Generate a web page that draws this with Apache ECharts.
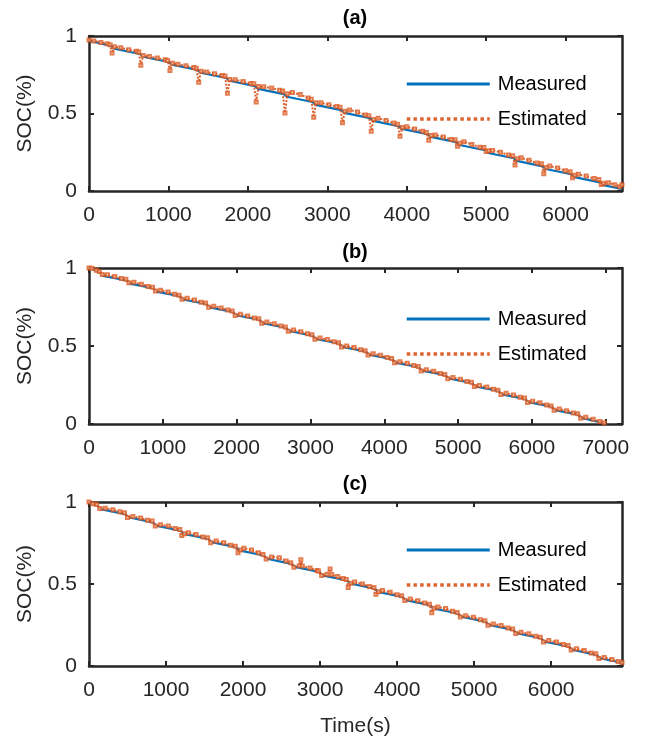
<!DOCTYPE html>
<html>
<head>
<meta charset="utf-8">
<script src="https://cdn.jsdelivr.net/npm/echarts@6/dist/echarts.min.js"></script>
<style>
  html, body { margin: 0; padding: 0; background: #ffffff; }
  #chart { width: 645px; height: 741px; }
</style>
</head>
<body>
<div id="chart"></div>
<script>
// ---------- data ----------
const panelTitles = ['(a)', '(b)', '(c)'];
const seriesNames = ['Measured', 'Estimated'];
const xMaxes = [6710, 7220, 6920];
const xTicksA = [0, 1000, 2000, 3000, 4000, 5000, 6000];
const xTicksB = [0, 1000, 2000, 3000, 4000, 5000, 6000, 7000];
const xTicksC = [0, 1000, 2000, 3000, 4000, 5000, 6000];
const yTicks = [0, 0.5, 1];

// (a)
const tA_meas = [0,280,320,642,682,1004,1044,1366,1406,1728,1768,2090,2130,2452,2492,2814,2854,3176,3216,3538,3578,3900,3940,4262,4302,4624,4664,4986,5026,5348,5388,5710,5750,6072,6112,6434,6474,6710];
const socA_meas = [0.970,0.936,0.918,0.884,0.866,0.832,0.815,0.781,0.763,0.729,0.711,0.677,0.659,0.625,0.608,0.574,0.556,0.522,0.504,0.470,0.452,0.418,0.401,0.367,0.349,0.315,0.297,0.263,0.245,0.211,0.194,0.159,0.142,0.108,0.090,0.056,0.038,0.013];
const tA_est = [0,60,150,230, 265,290,320,400,500,600, 627,652,682,760,860,960, 989,1019,1049,1120,1220,1320, 1351,1381,1411,1480,1580,1680, 1713,1743,1773,1840,1940,2040, 2075,2105,2135,2200,2300,2400, 2437,2467,2497,2560,2660,2760, 2799,2829,2859,2920,3020,3120, 3161,3191,3221,3280,3380,3480, 3523,3553,3583,3640,3740,3840, 3885,3915,3945,4000,4100,4200, 4247,4277,4307,4360,4460,4560, 4609,4639,4669,4720,4820,4920, 4971,5001,5031,5080,5180,5280, 5333,5363,5393,5440,5540,5640, 5695,5725,5755,5800,5900,6000, 6057,6087,6117,6160,6260,6360, 6419,6449,6479,6540,6620,6680,6710];
const socA_est = [0.975,0.968,0.958,0.950, 0.944,0.890,0.930,0.925,0.912,0.902, 0.896,0.812,0.875,0.868,0.858,0.846, 0.842,0.778,0.825,0.818,0.808,0.796, 0.792,0.702,0.773,0.768,0.757,0.745, 0.742,0.630,0.720,0.718,0.706,0.693, 0.692,0.575,0.675,0.672,0.664,0.650, 0.645,0.503,0.628,0.635,0.622,0.600, 0.592,0.476,0.570,0.570,0.556,0.545, 0.540,0.440,0.515,0.523,0.510,0.490, 0.485,0.386,0.462,0.470,0.455,0.438, 0.430,0.353,0.410,0.415,0.400,0.385, 0.378,0.327,0.358,0.362,0.348,0.332, 0.330,0.288,0.308,0.318,0.300,0.283, 0.280,0.255,0.260,0.262,0.250,0.232, 0.228,0.168,0.208,0.214,0.198,0.180, 0.176,0.112,0.152,0.162,0.148,0.130, 0.125,0.085,0.102,0.108,0.096,0.080, 0.075,0.042,0.050,0.054,0.040,0.028,0.040];

// (b)
const tB_meas = [0,60,150,190,510,550,870,910,1230,1270,1590,1630,1950,1990,2310,2350,2670,2710,3030,3070,3390,3430,3750,3790,4110,4150,4470,4510,4830,4870,5190,5230,5550,5590,5910,5950,6270,6310,6630,6670,6980];
const socB_meas = [1.000,0.990,0.972,0.950,0.921,0.900,0.871,0.849,0.820,0.798,0.769,0.748,0.719,0.697,0.668,0.646,0.617,0.596,0.567,0.545,0.516,0.494,0.465,0.444,0.415,0.393,0.364,0.342,0.313,0.292,0.263,0.241,0.212,0.190,0.161,0.140,0.111,0.089,0.060,0.039,0.005];
const tB_est = [0,40,100, 140,180,250,350,440, 500,540,610,710,800, 860,900,970,1070,1160, 1220,1260,1330,1430,1520, 1580,1620,1690,1790,1880, 1940,1980,2050,2150,2240, 2300,2340,2410,2510,2600, 2660,2700,2770,2870,2960, 3020,3060,3130,3230,3320, 3380,3420,3490,3590,3680, 3740,3780,3850,3950,4040, 4100,4140,4210,4310,4400, 4460,4500,4570,4670,4760, 4820,4860,4930,5030,5120, 5180,5220,5290,5390,5480, 5540,5580,5650,5750,5840, 5900,5940,6010,6110,6200, 6260,6300,6370,6470,6560, 6620,6660,6730,6830,6920,6980];
const socB_est = [1.000,0.998,0.985, 0.978,0.958,0.957,0.945,0.932, 0.928,0.905,0.908,0.896,0.882, 0.876,0.852,0.857,0.846,0.832, 0.826,0.800,0.806,0.795,0.781, 0.775,0.748,0.755,0.744,0.730, 0.724,0.696,0.704,0.693,0.679, 0.674,0.646,0.654,0.642,0.628, 0.622,0.594,0.602,0.592,0.578, 0.572,0.544,0.551,0.541,0.527, 0.521,0.493,0.500,0.490,0.476, 0.470,0.442,0.450,0.440,0.426, 0.420,0.392,0.399,0.389,0.375, 0.369,0.340,0.348,0.338,0.324, 0.318,0.290,0.298,0.287,0.273, 0.268,0.240,0.247,0.237,0.223, 0.217,0.189,0.197,0.186,0.172, 0.166,0.138,0.146,0.136,0.122, 0.116,0.088,0.096,0.085,0.071, 0.065,0.037,0.043,0.030,0.016,0.008];

// (c)
const tC_meas = [0,50,110,150,470,510,830,870,1190,1230,1550,1590,1910,1950,2270,2310,2630,2670,2990,3030,3350,3390,3710,3750,4070,4110,4430,4470,4790,4830,5150,5190,5510,5550,5870,5910,6230,6270,6590,6630,6920];
const socC_meas = [1.000,0.988,0.977,0.957,0.926,0.907,0.876,0.856,0.825,0.806,0.775,0.755,0.724,0.705,0.674,0.654,0.623,0.604,0.573,0.553,0.522,0.503,0.472,0.452,0.421,0.402,0.371,0.351,0.320,0.301,0.270,0.250,0.220,0.200,0.169,0.149,0.119,0.099,0.068,0.048,0.020];
const tC_est = [0,50,100, 140,210,310,400, 460,500,570,670,760, 820,860,930,1030,1120, 1180,1205,1240,1290,1390,1480, 1540,1580,1650,1750,1840, 1900,1935,1970,2010,2110,2200, 2260,2300,2370,2470,2560, 2620,2660,2730,2750,2770,2870,2960, 2980,3020,3090,3130,3150,3230,3300, 3340,3365,3400,3450,3550,3640, 3700,3725,3760,3810,3910,4000, 4060,4100,4170,4270,4360, 4420,4450,4480,4530,4630,4720, 4780,4820,4890,4990,5080, 5140,5180,5250,5350,5440, 5500,5540,5610,5710,5800, 5860,5900,5970,6070,6160, 6220,6260,6330,6430,6520, 6580,6620,6690,6790,6870,6920];
const socC_est = [1.000,0.990,0.985, 0.960,0.962,0.953,0.940, 0.935,0.905,0.912,0.903,0.888, 0.884,0.854,0.862,0.853,0.838, 0.832,0.795,0.806,0.812,0.802,0.787, 0.782,0.752,0.762,0.752,0.737, 0.730,0.690,0.708,0.718,0.708,0.690, 0.680,0.652,0.665,0.660,0.640, 0.630,0.602,0.612,0.648,0.610,0.598,0.582, 0.580,0.552,0.560,0.592,0.558,0.545,0.533, 0.528,0.478,0.505,0.512,0.500,0.485, 0.478,0.438,0.452,0.460,0.450,0.434, 0.428,0.400,0.408,0.398,0.384, 0.377,0.325,0.352,0.360,0.350,0.334, 0.326,0.299,0.306,0.297,0.282, 0.276,0.248,0.256,0.247,0.232, 0.226,0.198,0.206,0.196,0.181, 0.175,0.147,0.155,0.146,0.131, 0.125,0.097,0.105,0.095,0.080, 0.074,0.046,0.052,0.040,0.028,0.022];

// ---------- styling / layout ----------
const FONT = '"Liberation Sans", Arial, Helvetica, sans-serif';
const AX = '#262626';
const BLUE = '#0072BD';
const ORANGE = '#D95319';
const grids = [
  { left: 89, width: 533, top: 36, height: 155 },
  { left: 89, width: 533, top: 268, height: 156 },
  { left: 89, width: 533, top: 502, height: 164 }
];
const titleTops = [8, 242, 474];
const legendTops = [74, 309, 540];
const panelTicks = [xTicksA, xTicksB, xTicksC];
const panelData = [
  [tA_meas, socA_meas, tA_est, socA_est],
  [tB_meas, socB_meas, tB_est, socB_est],
  [tC_meas, socC_meas, tC_est, socC_est]
];

function pairs(xs, ys) {
  const n = Math.min(xs.length, ys.length);
  const out = [];
  for (let i = 0; i < n; i++) out.push([xs[i], ys[i]]);
  return out;
}
const plain = (v) => String(v);

const lineAxis = { show: true, onZero: false, lineStyle: { color: AX, width: 2.5 } };
const tickIn = (vals) => ({ show: true, inside: true, length: 5, lineStyle: { color: AX, width: 2 }, customValues: vals });

const option = {
  animation: false,
  backgroundColor: '#ffffff',
  textStyle: { fontFamily: FONT },
  title: [], grid: [], xAxis: [], yAxis: [], legend: [], series: []
};

for (let g = 0; g < 3; g++) {
  option.grid.push(Object.assign({ containLabel: false }, grids[g]));
  option.title.push({
    text: panelTitles[g], left: 355, top: titleTops[g], textAlign: 'center', padding: 0,
    textStyle: { fontFamily: FONT, fontSize: 20, fontWeight: 'bold', color: '#000000' }
  });
  const xm = xMaxes[g];
  option.xAxis.push({
    type: 'value', gridIndex: g, position: 'bottom', min: 0, max: xm,
    axisLine: lineAxis, axisTick: tickIn(panelTicks[g]), splitLine: { show: false },
    axisLabel: { customValues: panelTicks[g], formatter: plain, margin: 14, fontSize: 21, color: AX, fontFamily: FONT },
    name: g === 2 ? 'Time(s)' : '', nameLocation: 'middle', nameGap: 50,
    nameTextStyle: { fontSize: 21, color: AX, fontFamily: FONT }
  });
  option.xAxis.push({
    type: 'value', gridIndex: g, position: 'top', min: 0, max: xm,
    axisLine: lineAxis, axisTick: tickIn(panelTicks[g]), splitLine: { show: false },
    axisLabel: { show: false }
  });
  option.yAxis.push({
    type: 'value', gridIndex: g, position: 'left', min: 0, max: 1,
    axisLine: lineAxis, axisTick: tickIn(yTicks), splitLine: { show: false },
    axisLabel: { customValues: yTicks, formatter: plain, margin: 12, fontSize: 21, color: AX, fontFamily: FONT },
    name: 'SOC(%)', nameLocation: 'middle', nameGap: 53,
    nameTextStyle: { fontSize: 21, color: AX, fontFamily: FONT }
  });
  option.yAxis.push({
    type: 'value', gridIndex: g, position: 'right', min: 0, max: 1,
    axisLine: lineAxis, axisTick: tickIn(yTicks), splitLine: { show: false },
    axisLabel: { show: false }
  });
  option.legend.push({
    orient: 'vertical', left: 405, top: legendTops[g], padding: 0,
    itemWidth: 83, itemHeight: 14, itemGap: 15,
    itemStyle: { opacity: 0 },
    textStyle: { fontFamily: FONT, fontSize: 20, color: '#000000', padding: [0, 0, 0, 3] },
    data: [
      { name: seriesNames[0], lineStyle: { width: 3, type: 'solid', color: BLUE } },
      { name: seriesNames[1], lineStyle: { width: 3.5, type: [3.5, 3.2], color: ORANGE } }
    ]
  });
  const d = panelData[g];
  option.series.push({
    name: seriesNames[0], type: 'line', xAxisIndex: 2 * g, yAxisIndex: 2 * g,
    data: pairs(d[0], d[1]), symbol: 'none', smooth: false,
    lineStyle: { color: BLUE, width: 2.2 }, itemStyle: { color: BLUE }, z: 2
  });
  option.series.push({
    name: seriesNames[1], type: 'line', xAxisIndex: 2 * g, yAxisIndex: 2 * g,
    data: pairs(d[2], d[3]), symbol: 'emptyRect', symbolSize: 3, showSymbol: true,
    smooth: false,
    lineStyle: { color: ORANGE, width: 2, type: [2, 1.5], opacity: 0.9 },
    itemStyle: { color: ORANGE, borderColor: ORANGE, borderWidth: 0.8, opacity: 0.75 }, z: 3
  });
}

const chart = echarts.init(document.getElementById('chart'), null, { renderer: 'canvas' });
chart.setOption(option);
</script>
</body>
</html>
